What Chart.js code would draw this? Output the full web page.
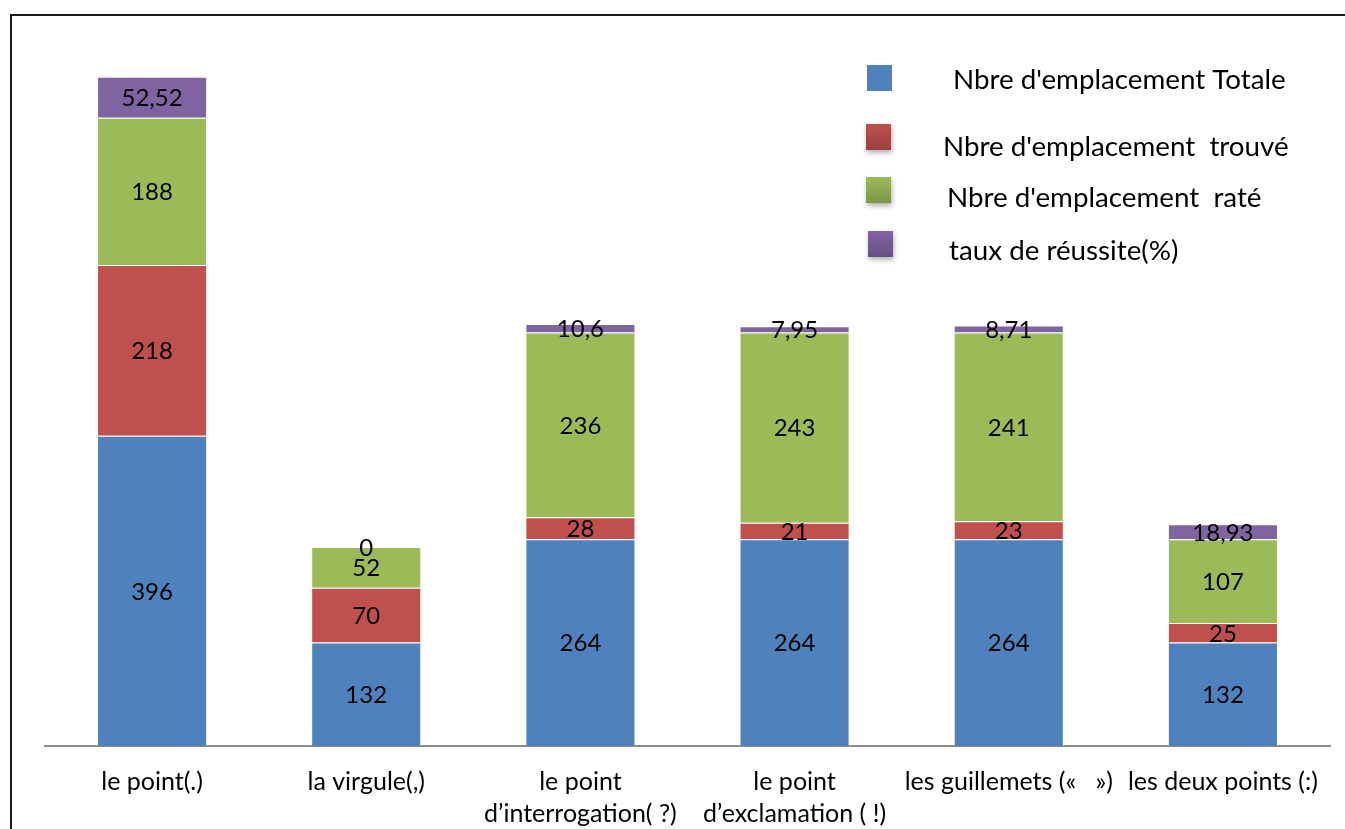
<!DOCTYPE html>
<html>
<head>
<meta charset="utf-8">
<script src="https://cdn.jsdelivr.net/npm/chart.js@4.4.0/dist/chart.umd.min.js"></script>
<style>
  html, body { margin: 0; padding: 0; background: #fff; }
  #wrap { width: 1345px; height: 829px; position: relative; }
</style>
</head>
<body>
<div id="wrap"><canvas id="chart" width="1345" height="829"></canvas></div>
<script>
const categories = [
  'le point(.)',
  'la virgule(,)',
  ['le point', 'd\u2019interrogation( ?)'],
  ['le point', 'd\u2019exclamation ( !)'],
  'les guillemets (\u00ab   \u00bb)',
  'les deux points (:)'
];
const totale = [396, 132, 264, 264, 264, 132];
const trouve = [218, 70, 28, 21, 23, 25];
const rate = [188, 52, 236, 243, 241, 107];
const taux = [52.52, 0, 10.6, 7.95, 8.71, 18.93];

const seriesNames = [
  "Nbre d'emplacement Totale",
  "Nbre d'emplacement  trouvé",
  "Nbre d'emplacement  raté",
  'taux de réussite(%)'
];
const seriesColors = ['#4F81BD', '#C0504D', '#9BBB59', '#8064A2'];

const FONT = 'Lato, "Open Sans", sans-serif';

// white page + frame around the chart
const framePlugin = {
  id: 'frame',
  beforeDraw(chart) {
    const ctx = chart.ctx;
    ctx.save();
    ctx.fillStyle = '#fff';
    ctx.fillRect(0, 0, chart.width, chart.height);
    ctx.strokeStyle = '#1a1a1a';
    ctx.lineWidth = 2;
    ctx.strokeRect(11, 15, chart.width + 20, chart.height + 20);
    ctx.restore();
  }
};

// value labels in the middle of each segment
const valueLabels = {
  id: 'valueLabels',
  afterDatasetsDraw(chart) {
    const ctx = chart.ctx;
    ctx.save();
    ctx.font = '24px ' + FONT;
    ctx.fillStyle = '#000';
    ctx.textAlign = 'center';
    ctx.textBaseline = 'middle';
    chart.data.datasets.forEach((ds, i) => {
      const meta = chart.getDatasetMeta(i);
      meta.data.forEach((bar, j) => {
        const v = ds.data[j];
        const y = (bar.y + bar.base) / 2;
        ctx.fillText(String(v).replace('.', ','), bar.x, y + 1);
      });
    });
    ctx.restore();
  }
};

// legend placed inside the plot, top right
const legendBox = {
  id: 'legendBox',
  afterDraw(chart) {
    const ctx = chart.ctx;
    const rows = [
      { sx: 867, sy: 65, tx: 953, ty: 80 },
      { sx: 866, sy: 124, tx: 943, ty: 147 },
      { sx: 866, sy: 177, tx: 947, ty: 198 },
      { sx: 868, sy: 231, tx: 949, ty: 251 }
    ];
    ctx.save();
    rows.forEach((r, i) => {
      ctx.save();
      if (i > 0) {
        ctx.shadowColor = 'rgba(0,0,0,0.3)';
        ctx.shadowBlur = 5;
        ctx.shadowOffsetX = 1;
        ctx.shadowOffsetY = 3;
        const g = ctx.createLinearGradient(0, r.sy, 0, r.sy + 26);
        g.addColorStop(0, seriesColors[i]);
        g.addColorStop(1, shade(seriesColors[i], 0.8));
        ctx.fillStyle = g;
      } else {
        ctx.fillStyle = seriesColors[i];
      }
      ctx.fillRect(r.sx, r.sy, 25, 26);
      ctx.restore();
      ctx.font = '27.75px ' + FONT;
      ctx.fillStyle = '#000';
      ctx.textAlign = 'left';
      ctx.textBaseline = 'middle';
      ctx.fillText(seriesNames[i], r.tx, r.ty);
    });
    ctx.restore();
  }
};

function shade(hex, f) {
  const n = parseInt(hex.slice(1), 16);
  const r = Math.round(((n >> 16) & 255) * f);
  const g = Math.round(((n >> 8) & 255) * f);
  const b = Math.round((n & 255) * f);
  return `rgb(${r},${g},${b})`;
}

const seriesData = [totale, trouve, rate, taux];

new Chart(document.getElementById('chart'), {
  type: 'bar',
  data: {
    labels: categories,
    datasets: seriesData.map((d, i) => ({
      label: seriesNames[i],
      data: d,
      backgroundColor: seriesColors[i],
      borderColor: 'rgba(255,255,255,0.35)',
      borderWidth: 1,
      barPercentage: 0.514,
      categoryPercentage: 1
    }))
  },
  options: {
    responsive: false,
    animation: false,
    layout: { padding: { left: 45, right: 15, top: 41, bottom: 0 } },
    plugins: {
      legend: { display: false },
      tooltip: { enabled: false }
    },
    scales: {
      x: {
        stacked: true,
        grid: { display: false },
        border: { display: true, color: '#8c8c8c', width: 2 },
        ticks: {
          color: '#000',
          font: { family: FONT, size: 25, lineHeight: 1.28 },
          padding: 12,
          maxRotation: 0,
          autoSkip: false
        },
        afterFit(scale) { scale.height = 83; }
      },
      y: {
        stacked: true,
        display: false,
        min: 0,
        max: 900
      }
    }
  },
  plugins: [framePlugin, valueLabels, legendBox]
});
</script>
</body>
</html>
